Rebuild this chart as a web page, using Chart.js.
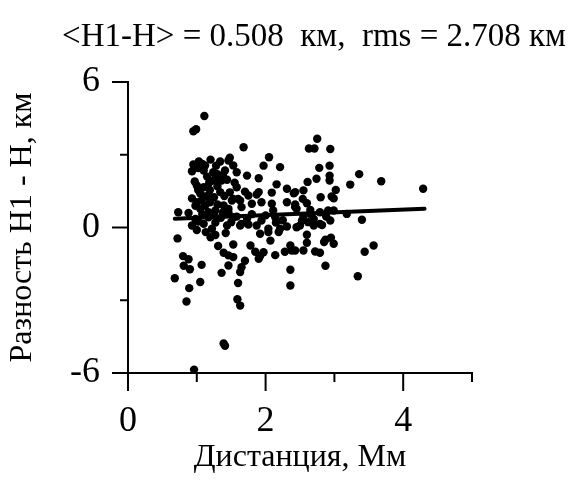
<!DOCTYPE html>
<html lang="ru">
<head>
<meta charset="UTF-8">
<title>Разность H1 - H</title>
<script src="https://cdn.jsdelivr.net/npm/chart.js"></script>
<style>
  html, body { margin: 0; padding: 0; background: #fff; }
</style>
</head>
<body>
<canvas id="diffChart" width="574" height="481"></canvas>
<script>
// distance (Mm) and height difference H1 - H (km)
const distance = [
  1.11, 0.99, 0.95, 1.68, 2.75, 2.63, 2.71, 2.94, 2.05, 1.48,
  1.03, 1.20, 1.34, 1.46, 1.97, 2.21, 1.12, 1.53, 0.93, 1.10,
  1.24, 1.41, 1.58, 1.73, 1.90, 2.78, 2.93, 3.36, 2.61, 2.74,
  2.93, 2.93, 3.23, 3.68, 4.29, 0.97, 1.24, 1.36, 1.44, 1.27,
  1.10, 1.00, 1.19, 1.34, 1.58, 2.16, 1.70, 1.90, 2.09, 2.31,
  2.43, 2.55, 3.02, 2.96, 2.99, 2.54, 2.80, 0.93, 1.07, 1.17,
  1.19, 1.39, 1.51, 1.63, 1.75, 1.87, 1.80, 1.94, 2.09, 2.31,
  2.43, 1.00, 1.05, 0.73, 0.88, 1.17, 1.27, 1.46, 1.46, 1.65,
  2.11, 2.45, 2.43, 2.65, 2.79, 2.91, 2.99, 3.18, 3.40, 1.53,
  1.73, 1.94, 2.14, 1.17, 2.53, 2.62, 2.79, 2.94, 0.93, 1.10,
  1.27, 1.44, 1.63, 1.87, 2.04, 2.21, 2.31, 2.45, 2.50, 2.70,
  2.82, 1.65, 1.75, 0.72, 1.13, 1.27, 1.42, 1.92, 2.04, 2.19,
  2.60, 2.95, 2.87, 2.60, 2.07, 1.31, 1.53, 1.78, 2.36, 2.85,
  2.99, 3.57, 3.44, 1.39, 1.46, 1.85, 1.97, 1.92, 1.90, 2.14,
  2.28, 2.38, 2.55, 2.43, 2.72, 2.79, 0.80, 0.88, 0.81, 0.90,
  1.07, 1.70, 1.65, 1.63, 1.36, 1.46, 2.36, 2.87, 0.68, 1.05,
  0.89, 1.60, 2.36, 3.34, 0.85, 1.59, 1.63, 1.39, 1.41, 0.96,
  1.53, 1.02, 1.15, 1.30, 1.05, 1.25, 1.30, 1.55, 0.98, 1.12,
  1.35, 1.22, 1.00, 2.60, 2.70, 2.15, 1.53, 1.60, 2.41, 1.02,
  0.95, 1.08, 1.28, 1.38, 1.18, 1.02, 1.30, 1.48, 1.12, 1.40,
  0.98, 1.25, 1.38, 1.58, 1.08, 1.20, 1.50, 2.25, 2.65, 2.88,
  2.55, 1.80, 2.00
];
const diff = [
  4.60, 4.05, 3.97, 3.31, 3.66, 3.26, 3.26, 3.24, 2.90, 2.88,
  2.72, 2.80, 2.72, 2.76, 2.55, 2.49, 2.56, 2.56, 2.32, 2.35,
  2.28, 2.35, 2.28, 2.14, 2.03, 2.46, 2.55, 2.20, 1.88, 2.01,
  2.14, 1.94, 1.77, 1.91, 1.60, 1.90, 1.94, 1.94, 1.97, 2.01,
  1.66, 1.73, 1.55, 1.46, 1.66, 1.78, 1.48, 1.46, 1.44, 1.60,
  1.46, 1.53, 1.55, 1.28, 1.20, 1.18, 1.25, 1.20, 1.11, 1.32,
  1.04, 0.91, 1.11, 1.11, 1.32, 1.36, 0.98, 1.04, 0.98, 1.04,
  0.95, 1.04, 0.77, 0.63, 0.60, 0.63, 0.70, 0.63, 0.77, 0.84,
  0.70, 0.77, 0.84, 0.56, 0.63, 0.70, 0.70, 0.56, 0.32, 0.42,
  0.36, 0.29, 0.42, 0.42, 0.29, 0.22, 0.15, 0.29, 0.08, 0.15,
  0.20, 0.08, 0.08, 0.08, -0.05, -0.05, 0.04, 0.01, 0.08, 0.08,
  0.10, 0.15, 0.12, -0.45, -0.19, -0.31, -0.23, -0.26, -0.19, -0.19,
  -0.30, -0.42, -0.50, -0.63, -0.54, -0.76, -0.70, -0.74, -0.74, -0.60,
  -0.67, -0.74, -1.00, -1.04, -1.15, -1.00, -1.02, -1.18, -1.29, -1.14,
  -1.00, -0.95, -0.95, -0.95, -0.99, -1.04, -1.18, -1.31, -1.58, -1.72,
  -1.54, -1.37, -1.64, -1.84, -1.87, -1.57, -1.74, -1.58, -2.09, -2.25,
  -2.50, -2.29, -2.39, -2.01, -3.05, -2.96, -3.22, -4.78, -4.88, -5.86,
  -1.22, 2.45, 2.10, 2.20, 1.40, 1.25, 0.95, 1.85, 0.35, 0.90,
  0.40, -0.05, -0.10, 1.00, 0.35, 0.20, 1.18, 1.18, 1.41, 0.25,
  2.60, 2.62, 2.55, 2.15, 1.85, 1.55, 1.70, 1.45, 1.28, 1.30,
  0.90, 0.50, 0.62, 0.45, 0.55, -0.40, 0.22, 0.30, 0.72, 0.45,
  0.45, 0.55, 0.50
];

// straight-line fit through the cloud
const fitDistance = [0.68, 4.31];
const fitDiff = [0.36, 0.77];

const xTicks = [0, 1, 2, 3, 4, 5];
const xLabels = ['0', '', '2', '', '4', ''];
const yTicks = [-6, -3, 0, 3, 6];
const yLabels = ['-6', '', '0', '', '6'];

const meanDiff = '0.508';
const rmsDiff = '2.708';

const serif = "'Liberation Serif', 'Times New Roman', serif";

// heading above the plot
const headingPlugin = {
  id: 'heading',
  afterDraw(chart) {
    const ctx = chart.ctx;
    ctx.save();
    ctx.fillStyle = '#000';
    ctx.font = '33px ' + serif;
    ctx.textAlign = 'center';
    ctx.textBaseline = 'alphabetic';
    ctx.fillText('<H1-H> = ' + meanDiff + '  км,  rms = ' + rmsDiff + ' км', 314, 46);
    ctx.restore();
  }
};

// outward tick marks: long where labelled, short otherwise
const tickMarks = {
  id: 'tickMarks',
  afterDraw(chart) {
    const { ctx, scales: { x, y } } = chart;
    ctx.save();
    ctx.strokeStyle = '#000';
    ctx.lineWidth = 2;
    ctx.beginPath();
    xTicks.forEach((v, i) => {
      const px = x.getPixelForValue(v);
      const len = xLabels[i] ? 18 : 9;
      ctx.moveTo(px, y.bottom);
      ctx.lineTo(px, y.bottom + len);
    });
    yTicks.forEach((v, i) => {
      const py = y.getPixelForValue(v);
      const len = yLabels[i] ? 16 : 8;
      ctx.moveTo(x.left, py);
      ctx.lineTo(x.left - len, py);
    });
    ctx.stroke();
    ctx.restore();
  }
};

new Chart(document.getElementById('diffChart'), {
  type: 'scatter',
  data: {
    datasets: [
      {
        data: distance.map((d, i) => ({ x: d, y: diff[i] })),
        pointRadius: 4.2,
        pointBackgroundColor: '#000',
        pointBorderWidth: 0,
        clip: false
      },
      {
        type: 'line',
        data: fitDistance.map((d, i) => ({ x: d, y: fitDiff[i] })),
        borderColor: '#000',
        borderWidth: 4,
        pointRadius: 0,
        borderCapStyle: 'round',
        clip: false
      }
    ]
  },
  options: {
    responsive: false,
    animation: false,
    layout: { padding: { left: 0, top: 82, right: 102, bottom: 0 } },
    plugins: {
      legend: { display: false },
      tooltip: { enabled: false },
      title: { display: false }
    },
    scales: {
      x: {
        type: 'linear',
        min: 0,
        max: 5,
        afterBuildTicks: s => { s.ticks = xTicks.map(v => ({ value: v })); },
        afterFit: s => { s.height = 108; },
        grid: { display: false, drawTicks: false },
        border: { display: true, color: '#000', width: 2 },
        ticks: {
          color: '#000',
          padding: 27,
          maxRotation: 0,
          autoSkip: false,
          font: { family: serif, size: 36 },
          callback: (v, i) => xLabels[i]
        },
        title: {
          display: true,
          text: 'Дистанция, Мм',
          color: '#000',
          font: { family: serif, size: 32 },
          padding: { top: 0, bottom: 4 }
        }
      },
      y: {
        type: 'linear',
        min: -6,
        max: 6,
        afterBuildTicks: s => { s.ticks = yTicks.map(v => ({ value: v })); },
        afterFit: s => { s.width = 128; },
        grid: { display: false, drawTicks: false },
        border: { display: true, color: '#000', width: 2 },
        ticks: {
          color: '#000',
          padding: 28,
          autoSkip: false,
          font: { family: serif, size: 36 },
          callback: (v, i) => yLabels[i]
        },
        title: {
          display: true,
          text: 'Разность H1 - H, км',
          color: '#000',
          font: { family: serif, size: 32 },
          padding: { top: 3, bottom: 0 }
        }
      }
    }
  },
  plugins: [headingPlugin, tickMarks]
});
</script>
</body>
</html>
